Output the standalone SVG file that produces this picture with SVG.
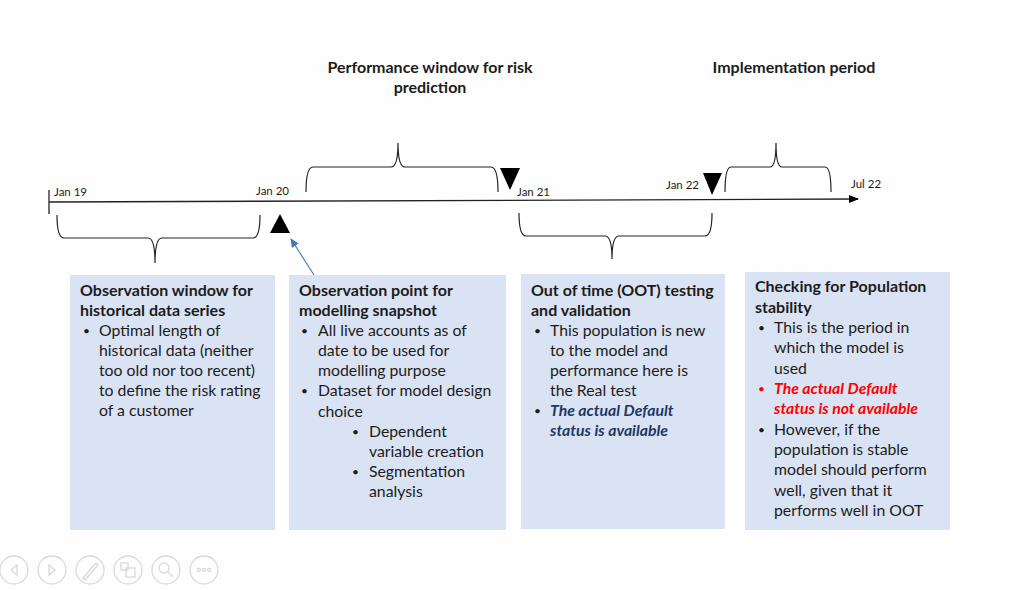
<svg xmlns="http://www.w3.org/2000/svg" width="1015" height="590" viewBox="0 0 1015 590">
<defs>
<style>
text{font-family:Lato,"Liberation Sans",sans-serif;fill:#1c1c1c}
.t{font-size:16px;font-weight:bold}
.b{font-size:15.8px}
.p{font-size:12px}
.d{font-size:11.5px}
.h{font-size:16px;font-weight:bold}
.box{fill:#dae3f3}
.br{fill:none;stroke:#222;stroke-width:1.2}
.nav{fill:none;stroke:#d9d9d9;stroke-width:1.3}
.blue{fill:#1f3864;font-weight:bold;font-style:italic}
.red{fill:#ff0000;font-weight:bold;font-style:italic}
</style>
<marker id="ah" markerWidth="10" markerHeight="8" refX="9" refY="4" orient="auto" markerUnits="userSpaceOnUse"><path d="M0,0 L10,4 L0,8 Z" fill="#000"/></marker>
<marker id="bh" markerWidth="9" markerHeight="8" refX="8" refY="4" orient="auto" markerUnits="userSpaceOnUse"><path d="M0,0 L9,4 L0,8 Z" fill="#4472c4"/></marker>
</defs>
<rect width="1015" height="590" fill="#fefefe"/>

<g id="headers">
<text class="h" x="430" y="73" text-anchor="middle">Performance window for risk</text>
<text class="h" x="430" y="93" text-anchor="middle">prediction</text>
<text class="h" x="794" y="73" text-anchor="middle">Implementation period</text>
</g>

<g id="timeline">
<line x1="49" y1="202" x2="858" y2="199" stroke="#222" stroke-width="1.3" marker-end="url(#ah)"/>
<line x1="49" y1="190" x2="49" y2="214" stroke="#222" stroke-width="1.3"/>
<text class="d" x="54" y="196">Jan 19</text>
<text class="d" x="256" y="195">Jan 20</text>
<text class="d" x="517" y="196">Jan 21</text>
<text class="d" x="666" y="189">Jan 22</text>
<text class="d" x="851" y="188">Jul 22</text>
</g>

<g id="markers">
<path d="M280,214 L290,233 L270,233 Z" fill="#000"/>
<path d="M500,168 L520,168 L510,190 Z" fill="#000"/>
<path d="M703,173 L722,173 L712,195 Z" fill="#000"/>
</g>

<g id="braces">
<path class="br" d="M57,215 Q57,238 64,238 L148,238 Q155,238 155,263 Q155,238 162,238 L253,238 Q260,238 260,215"/>
<path class="br" d="M306,192 Q306,167 313,167 L391,167 Q398,167 398,143 Q398,167 405,167 L491,167 Q498,167 498,192"/>
<path class="br" d="M519,213 Q519,236 526,236 L605,236 Q612,236 612,259 Q612,236 619,236 L705,236 Q712,236 712,213"/>
<path class="br" d="M725,192 Q725,167 731,167 L770,167 Q776,167 776,143 Q776,167 782,167 L825,167 Q831,167 831,192"/>
</g>

<g id="connectors">
<line x1="314" y1="275" x2="291" y2="239" stroke="#4472c4" stroke-width="1.1" marker-end="url(#bh)"/>
</g>

<g id="box1">
<rect class="box" x="70" y="275" width="205" height="255"/>
<text class="t" x="80" y="296">Observation window for</text>
<text class="t" x="80" y="316">historical data series</text>
<text class="p" x="83" y="335">•</text>
<text class="b" x="99" y="336">Optimal length of</text>
<text class="b" x="99" y="356">historical data (neither</text>
<text class="b" x="99" y="376">too old nor too recent)</text>
<text class="b" x="99" y="396">to define the risk rating</text>
<text class="b" x="99" y="416">of a customer</text>
</g>

<g id="box2">
<rect class="box" x="289" y="275" width="217" height="255"/>
<text class="t" x="299" y="296">Observation point for</text>
<text class="t" x="299" y="316">modelling snapshot</text>
<text class="p" x="301" y="335">•</text>
<text class="b" x="318" y="336">All live accounts as of</text>
<text class="b" x="318" y="356">date to be used for</text>
<text class="b" x="318" y="376">modelling purpose</text>
<text class="p" x="301" y="395">•</text>
<text class="b" x="318" y="396">Dataset for model design</text>
<text class="b" x="318" y="417">choice</text>
<text class="p" x="352" y="436">•</text>
<text class="b" x="369" y="437">Dependent</text>
<text class="b" x="369" y="457">variable creation</text>
<text class="p" x="352" y="476">•</text>
<text class="b" x="369" y="477">Segmentation</text>
<text class="b" x="369" y="497">analysis</text>
</g>

<g id="box3">
<rect class="box" x="521" y="274" width="204" height="255"/>
<text class="t" x="531" y="296">Out of time (OOT) testing</text>
<text class="t" x="531" y="316">and validation</text>
<text class="p" x="534" y="335">•</text>
<text class="b" x="550" y="336">This population is new</text>
<text class="b" x="550" y="356">to the model and</text>
<text class="b" x="550" y="376">performance here is</text>
<text class="b" x="550" y="396">the Real test</text>
<text class="p" x="534" y="415">•</text>
<text class="b blue" x="550" y="416">The actual Default</text>
<text class="b blue" x="550" y="436">status is available</text>
</g>

<g id="box4">
<rect class="box" x="745" y="272" width="205" height="258"/>
<text class="t" x="755" y="292">Checking for Population</text>
<text class="t" x="755" y="313">stability</text>
<text class="p" x="758" y="332">•</text>
<text class="b" x="774" y="333">This is the period in</text>
<text class="b" x="774" y="353">which the model is</text>
<text class="b" x="774" y="374">used</text>
<text class="p" x="758" y="393" style="fill:#ff0000">•</text>
<text class="b red" x="774" y="394">The actual Default</text>
<text class="b red" x="774" y="414">status is not available</text>
<text class="p" x="758" y="434">•</text>
<text class="b" x="774" y="435">However, if the</text>
<text class="b" x="774" y="455">population is stable</text>
<text class="b" x="774" y="475">model should perform</text>
<text class="b" x="774" y="496">well, given that it</text>
<text class="b" x="774" y="516">performs well in OOT</text>
</g>

<g id="slide-controls">
<circle class="nav" cx="14" cy="570" r="14"/>
<path class="nav" d="M17,565 L11,570 L17,575 Z"/>
<circle class="nav" cx="52" cy="570" r="14"/>
<path class="nav" d="M49,565 L55,570 L49,575 Z"/>
<circle class="nav" cx="90" cy="570" r="14"/>
<path class="nav" d="M83,578 L96,563 L98,565 L85,580 Z"/>
<circle class="nav" cx="128" cy="570" r="14"/>
<rect class="nav" x="121" y="563" width="7" height="7"/>
<rect class="nav" x="126" y="568" width="9" height="9"/>
<circle class="nav" cx="166" cy="570" r="14"/>
<circle class="nav" cx="164" cy="568" r="5"/>
<line class="nav" x1="168" y1="572" x2="173" y2="577"/>
<circle class="nav" cx="204" cy="570" r="14"/>
<circle class="nav" cx="199" cy="570" r="1.5"/>
<circle class="nav" cx="204" cy="570" r="1.5"/>
<circle class="nav" cx="209" cy="570" r="1.5"/>
</g>
</svg>
